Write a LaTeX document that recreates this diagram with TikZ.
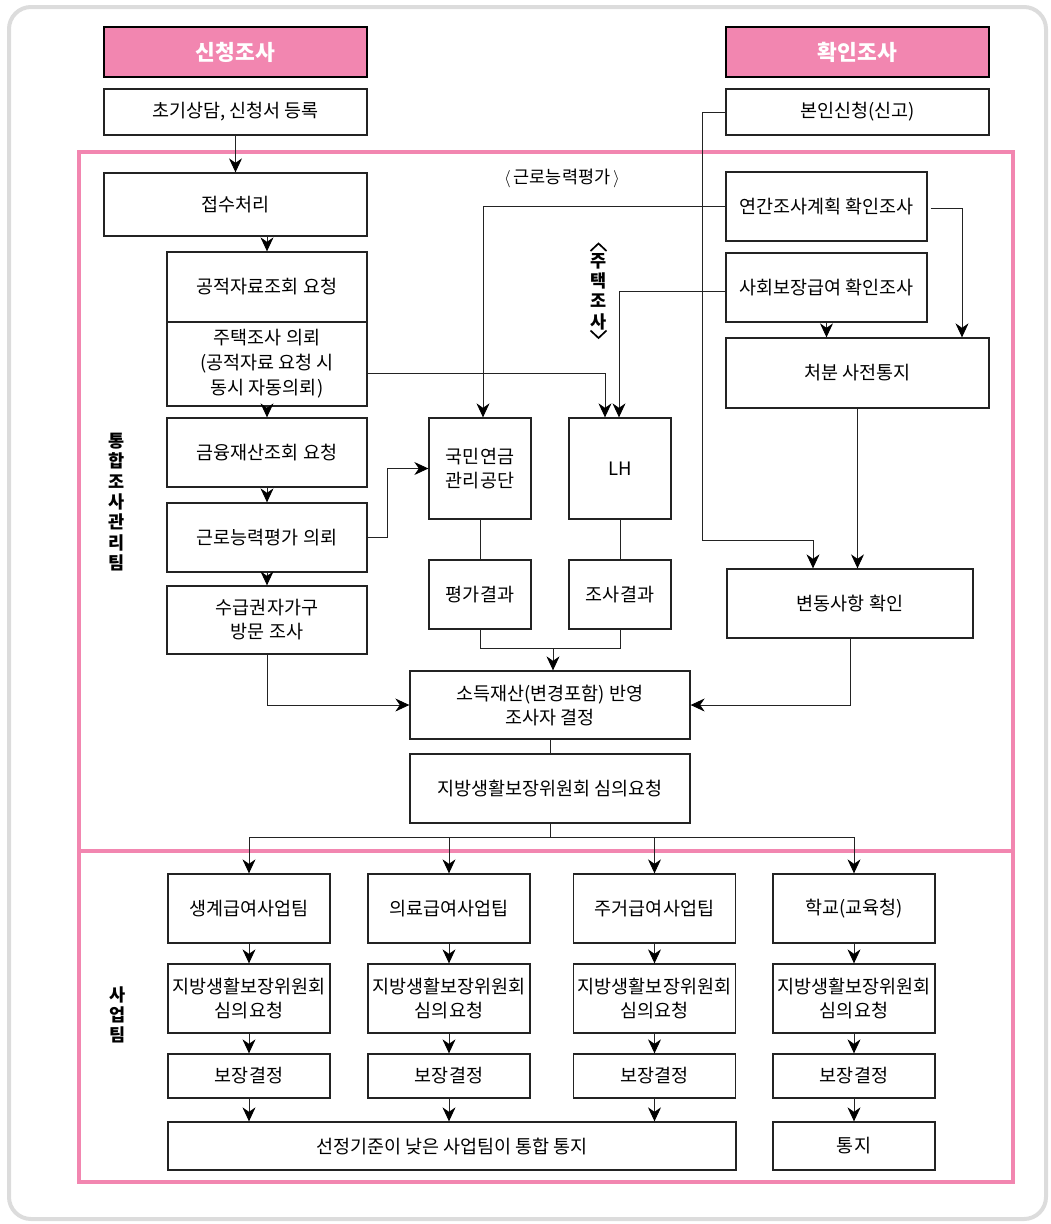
\documentclass[tikz,border=0pt]{standalone}
\usepackage{fontspec}
\setmainfont{Noto Sans CJK KR}
\usetikzlibrary{arrows.meta,positioning,calc}
\definecolor{pinkc}{RGB}{242,134,176}
\definecolor{linec}{RGB}{35,35,35}
\definecolor{outerc}{RGB}{220,220,220}
\tikzset{
  box/.style={draw=linec, line width=1.3pt, fill=white, align=center, inner sep=0pt,
    font=\fontsize{18.5}{24}\selectfont},
  hdr/.style={draw=black, line width=2pt, fill=pinkc, text=white, align=center, inner sep=0pt,
    font=\fontsize{21.5}{26}\selectfont\bfseries},
  conn/.style={draw=linec, line width=0.9pt},
  arr/.style={conn, -{Stealth[length=14pt,width=13pt,inset=4.5pt,black]}},
  frame/.style={draw=pinkc, line width=3.5pt},
  vlabel/.style={align=center, inner sep=0pt, font=\fontsize{17.5}{20.3}\selectfont\bfseries},
  chev/.style={draw=black, line width=1.7pt}
}
\begin{document}
\begin{tikzpicture}[x=1pt,y=-1pt]
\useasboundingbox (0,0) rectangle (1051,1224);
\draw[outerc, line width=4pt, rounded corners=22pt] (9,7) rectangle (1046,1219);
% frames
\draw[frame] (79,152) rectangle (1013,851);
\draw[frame] (79,851) rectangle (1013,1182);
% headers
\node[hdr, minimum width=263, minimum height=50] (hdrA) at (235.5,52) {신청조사};
\node[hdr, minimum width=263, minimum height=50] (hdrB) at (857.5,52) {확인조사};
\node[box, minimum width=263, minimum height=46] (init) at (235.5,112) {초기상담, 신청서 등록};
\node[box, minimum width=263, minimum height=46] (self) at (857.5,112) {본인신청(신고)};
% left column
\node[box, minimum width=263, minimum height=63] (recv) at (235.5,204.5) {접수처리};
\node[box, minimum width=200, minimum height=70] (pub) at (267,287) {공적자료조회 요청};
\node[box, minimum width=200, minimum height=84, font=\fontsize{18.5}{25}\selectfont] (house) at (267,364) {주택조사 의뢰\\(공적자료 요청 시\\동시 자동의뢰)};
\node[box, minimum width=200, minimum height=69] (fin) at (267,452.5) {금융재산조회 요청};
\node[box, minimum width=200, minimum height=69] (work) at (267,537.5) {근로능력평가 의뢰};
\node[box, minimum width=200, minimum height=68] (visit) at (267,620) {수급권자가구\\방문 조사};
% middle
\node[box, minimum width=102, minimum height=101] (nps) at (480,468.5) {국민연금\\관리공단};
\node[box, minimum width=102, minimum height=101] (lh) at (620,468.5) {LH};
\node[box, minimum width=102, minimum height=69] (eval) at (480,594.5) {평가결과};
\node[box, minimum width=102, minimum height=69] (res) at (620,594.5) {조사결과};
\node[box, minimum width=280, minimum height=68] (dec) at (550,705) {소득재산(변경포함) 반영\\조사자 결정};
\node[box, minimum width=280, minimum height=69] (cmt) at (550,788.5) {지방생활보장위원회 심의요청};
% right
\node[box, minimum width=201, minimum height=69] (annual) at (826.5,206.5) {연간조사계획 확인조사};
\node[box, minimum width=201, minimum height=69] (social) at (826.5,287.5) {사회보장급여 확인조사};
\node[box, minimum width=263, minimum height=70] (notice) at (857.5,373) {처분 사전통지};
\node[box, minimum width=246, minimum height=69] (chg) at (850,603.5) {변동사항 확인};
% labels
\node[font=\fontsize{17.5}{20}\selectfont, inner sep=0pt] (lblwork) at (562,178) {$\langle$\,근로능력평가\,$\rangle$};
\node[vlabel] (lblhouse) at (598.5,291.5) {주\\택\\조\\사};
\draw[chev] (590.5,251) -- (598.5,243.5) -- (606.5,251);
\draw[chev] (590.5,330.5) -- (598.5,338) -- (606.5,330.5);
\node[vlabel] (lblteam1) at (117,502) {통\\합\\조\\사\\관\\리\\팀};
\node[vlabel] (lblteam2) at (118,1015) {사\\업\\팀};
% bottom section
\foreach \i/\cx/\tname in {1/249/생계급여사업팀, 2/449/의료급여사업팁, 3/654.5/주거급여사업팁, 4/854/학교(교육청)}{
  \node[box, minimum width=162, minimum height=69] (t\i) at (\cx,908.5) {\tname};
  \node[box, minimum width=162, minimum height=69] (c\i) at (\cx,998.5) {지방생활보장위원회\\심의요청};
  \node[box, minimum width=162, minimum height=44] (g\i) at (\cx,1076) {보장결정};
  \draw[arr] (t\i.south) -- (c\i.north);
  \draw[arr] (c\i.south) -- (g\i.north);
}
\node[box, minimum width=568, minimum height=48] (final) at (452,1146) {선정기준이 낮은 사업팀이 통합 통지};
\node[box, minimum width=162, minimum height=48] (final4) at (854,1146) {통지};
\foreach \i in {1,2,3}{ \draw[arr] (g\i.south) -- (g\i.south |- final.north); }
\draw[arr] (g4.south) -- (final4.north);
% connectors top-left
\draw[arr] (init.south) -- (init.south |- recv.north);
\draw[arr] (pub.north |- recv.south) -- (pub.north);
\draw[arr] (house.south) -- (fin.north);
\draw[arr] (fin.south) -- (work.north);
\draw[arr] (work.south) -- (visit.north);
\draw[arr] (work.east) -- ++(20,0) |- (nps.west);
\draw[arr] ([yshift=-9pt]house.east) -| ([xshift=-15pt]lh.north);
\draw[arr] ([yshift=-4pt]social.west) -| ([xshift=-1pt]lh.north);
\draw[arr] (annual.west) -| ([xshift=3pt]nps.north);
\draw[arr] ([xshift=3pt,yshift=-2pt]annual.east) -| ([xshift=104.5pt]notice.north);
\draw[arr] (social.south) -- (social.south |- notice.north);
\draw[arr] (notice.south) -- (notice.south |- chg.north);
\coordinate (selfturn) at (702,540);
\draw[arr] (self.west) -| (selfturn) -| ([xshift=-37pt]chg.north);
\draw[conn] (nps.south) -- (eval.north);
\draw[conn] (lh.south) -- (res.north);
\coordinate (join) at (553,648);
\draw[conn] (eval.south) -- (eval.south |- join) -- (res.south |- join) -- (res.south);
\draw[arr] (join) -- (join |- dec.north);
\draw[arr] (visit.south) |- (dec.west);
\draw[arr] (chg.south) |- (dec.east);
\draw[conn] (dec.south) -- (cmt.north);
\coordinate (bus) at (550,837);
\draw[conn] (cmt.south) -- (bus);
\draw[conn] (t1.north |- bus) -- (t4.north |- bus);
\foreach \i in {1,2,3,4}{ \draw[arr] (t\i.north |- bus) -- (t\i.north); }
\end{tikzpicture}
\end{document}
